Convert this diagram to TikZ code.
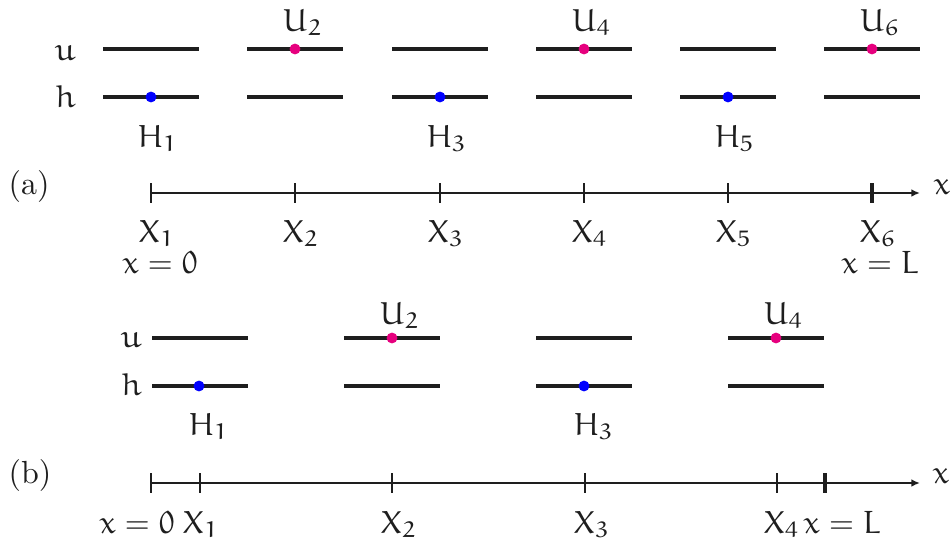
\documentclass[tikz,border=0pt]{standalone}
\usetikzlibrary{arrows.meta}
\DeclareMathAlphabet{\meu}{U}{eur}{m}{n}
\definecolor{pinkdot}{RGB}{230,0,126}
\definecolor{bluedot}{RGB}{0,0,255}
\definecolor{ink}{RGB}{30,30,30}
\tikzset{
  seg/.style={line width=1.25pt, draw=ink},
  axisline/.style={line width=0.65pt, draw=ink, -{Latex[length=2.7pt,width=2.4pt]}},
  tickmark/.style={line width=0.6pt, draw=ink},
  endtick/.style={line width=1.2pt, draw=ink},
  lbl/.style={anchor=base, inner sep=0pt, text=ink},
  rowlbl/.style={anchor=base east, inner sep=0pt, text=ink},
  udot/.style={circle, fill=pinkdot, inner sep=0pt, minimum size=3.4pt},
  hdot/.style={circle, fill=bluedot, inner sep=0pt, minimum size=3.4pt},
}
\begin{document}
\begin{tikzpicture}[x=0.3125pt,y=-0.3125pt]
\useasboundingbox (0,0) rectangle (951,539);
% ---------------- (a) ----------------
\node[rowlbl] (ua) at (76,60) {$\meu{u}$};
\node[rowlbl] (ha) at (76,107) {$\meu{h}$};
\foreach \c in {151,295,440,584,728,872}{
  \draw[seg] (\c-48,49) -- (\c+48,49);
  \draw[seg] (\c-48,97) -- (\c+48,97);
}
\node[hdot] (H1a) at (151,97) {};
\node[udot] (U2a) at (295,49) {};
\node[hdot] (H3a) at (440,97) {};
\node[udot] (U4a) at (584,49) {};
\node[hdot] (H5a) at (728,97) {};
\node[udot] (U6a) at (872,49) {};
\node[lbl] (lU2a) at (303,31) {$\meu{U_2}$};
\node[lbl] (lU4a) at (592,31) {$\meu{U_4}$};
\node[lbl] (lU6a) at (880,31) {$\meu{U_6}$};
\node[lbl] (lH1a) at (158,147) {$\meu{H_1}$};
\node[lbl] (lH3a) at (447,147) {$\meu{H_3}$};
\node[lbl] (lH5a) at (735,147) {$\meu{H_5}$};
\node[anchor=base west, inner sep=0pt, text=ink] (taga) at (8,194) {(a)};
\coordinate (a0) at (151,193);
\coordinate (aend) at (920,193);
\draw[axisline] (a0) -- (aend);
\node[anchor=base west, inner sep=0pt, text=ink] (xa) at (933,194) {$\meu{x}$};
\foreach \c in {151,295,440,584,728}{
  \draw[tickmark] (\c,183) -- (\c,203);
}
\draw[endtick] (872,183) -- (872,203);
\node[lbl] (X1a) at (157,242) {$\meu{X_1}$};
\node[lbl] (X2a) at (301,242) {$\meu{X_2}$};
\node[lbl] (X3a) at (446,242) {$\meu{X_3}$};
\node[lbl] (X4a) at (590,242) {$\meu{X_4}$};
\node[lbl] (X5a) at (734,242) {$\meu{X_5}$};
\node[lbl] (X6a) at (878,242) {$\meu{X_6}$};
\node[lbl] (x0a) at (160,273) {$\meu{x}=\meu{0}$};
\node[lbl] (xLa) at (880,273) {$\meu{x}=\meu{L}$};
% ---------------- (b) ----------------
\node[rowlbl] (ub) at (142,347) {$\meu{u}$};
\node[rowlbl] (hb) at (142,395) {$\meu{h}$};
\foreach \c in {200,392,584,776}{
  \draw[seg] (\c-48,338) -- (\c+48,338);
  \draw[seg] (\c-48,386) -- (\c+48,386);
}
\node[hdot] (H1b) at (199,386) {};
\node[udot] (U2b) at (392,338) {};
\node[hdot] (H3b) at (584,386) {};
\node[udot] (U4b) at (776,338) {};
\node[lbl] (lU2b) at (400,324) {$\meu{U_2}$};
\node[lbl] (lU4b) at (784,324) {$\meu{U_4}$};
\node[lbl] (lH1b) at (209,435) {$\meu{H_1}$};
\node[lbl] (lH3b) at (594,435) {$\meu{H_3}$};
\node[anchor=base west, inner sep=0pt, text=ink] (tagb) at (8,483) {(b)};
\coordinate (b0) at (151,483);
\coordinate (bend) at (920,483);
\draw[axisline] (b0) -- (bend);
\node[anchor=base west, inner sep=0pt, text=ink] (xb) at (932,483) {$\meu{x}$};
\foreach \c in {151,200,392,585,777}{
  \draw[tickmark] (\c,473) -- (\c,493);
}
\draw[endtick] (825,473) -- (825,493);
\node[lbl] (x0b) at (137,533) {$\meu{x}=\meu{0}$};
\node[lbl] (X1b) at (201,533) {$\meu{X_1}$};
\node[lbl] (X2b) at (399,533) {$\meu{X_2}$};
\node[lbl] (X3b) at (592,533) {$\meu{X_3}$};
\node[lbl] (X4b) at (782,533) {$\meu{X_4}$};
\node[lbl] (xLb) at (842,533) {$\meu{x}=\meu{L}$};
\end{tikzpicture}
\end{document}
